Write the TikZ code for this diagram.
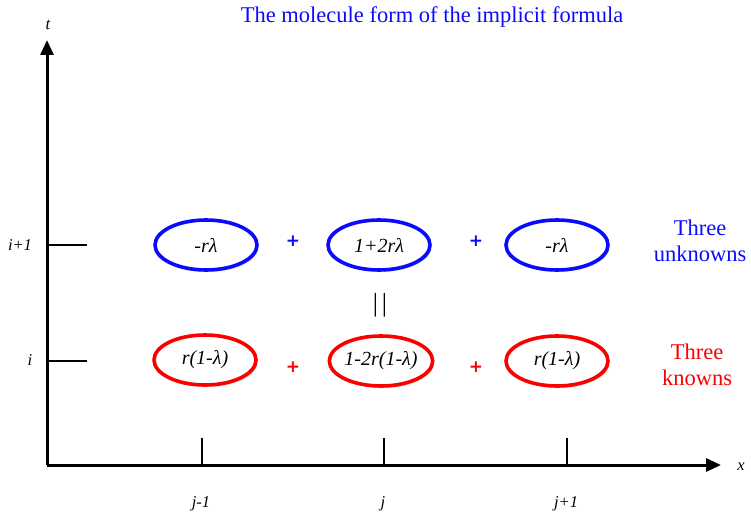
\documentclass[tikz,border=0pt]{standalone}
\usepackage{fontspec}
\setmainfont{Liberation Serif}
\newfontfamily\plusfont{DejaVu Sans}
\usetikzlibrary{shapes.geometric,arrows.meta,shadows}
\definecolor{myblue}{RGB}{10,10,255}
\definecolor{myred}{RGB}{250,0,0}
\tikzset{
  axis/.style={line width=3pt, -{Triangle[length=15pt,width=13pt]}},
  tickln/.style={line width=2.8pt},
  cell/.style={ellipse, line width=3.6pt, minimum width=102pt, minimum height=50pt, inner sep=0pt,
    font=\fontsize{20}{22}\selectfont\itshape, fill=white,
    drop shadow={opacity=0.3, shadow xshift=1.5pt, shadow yshift=-2pt, fill=black!50}},
  bcell/.style={cell, draw=myblue},
  rcell/.style={cell, draw=myred},
  lab/.style={font=\fontsize{16.5}{18}\selectfont\itshape},
  plusb/.style={font=\plusfont\bfseries\fontsize{17}{17}\selectfont, text=myblue},
  plusr/.style={font=\plusfont\bfseries\fontsize{17}{17}\selectfont, text=myred},
  side/.style={font=\fontsize{22.5}{26}\selectfont, align=center}
}
\begin{document}
\begin{tikzpicture}[x=1pt,y=-1pt]
\useasboundingbox (0,0) rectangle (751,516);
\coordinate (O) at (47,465);
\coordinate (tend) at (47,40);
\coordinate (xend) at (721,465);
\draw[axis] (O) -- (tend);
\draw[axis] (O) -- (xend);
\node[lab] (tl) at (48,25) {t};
\node[lab] (xl) at (741,467) {x};
% y ticks
\coordinate (yt1a) at (47,245); \coordinate (yt1b) at (87,245);
\coordinate (yt0a) at (47,361); \coordinate (yt0b) at (87,361);
\draw[tickln] (yt1a) -- (yt1b);
\draw[tickln] (yt0a) -- (yt0b);
\node[lab] (li1) at (20,245) {i+1};
\node[lab] (li0) at (30,360) {i};
% x ticks
\foreach \n/\xx in {a/202,b/384,c/567}{
  \coordinate (xt\n a) at (\xx,438); \coordinate (xt\n b) at (\xx,465);
  \draw[tickln] (xt\n a) -- (xt\n b);
}
\node[lab] (lj0) at (201,504) {j-1};
\node[lab] (lj1) at (383,504) {j};
\node[lab] (lj2) at (566,504) {j+1};
% title
\node[font=\fontsize{22.5}{24}\selectfont, text=myblue] (title) at (432,17) {The molecule form of the implicit formula};
% blue row
\node[bcell] (b1) at (206,245) {-rλ};
\node[bcell] (b2) at (379,245) {1+2rλ};
\node[bcell] (b3) at (557,245) {-rλ};
\node[plusb] (pb1) at (293,241) {+};
\node[plusb] (pb2) at (476,241) {+};
% red row
\node[rcell] (r1) at (205,360) {r(1-λ)};
\node[rcell] (r2) at (381,361) {1-2r(1-λ)};
\node[rcell] (r3) at (557,361) {r(1-λ)};
\node[plusr] (pr1) at (293,367) {+};
\node[plusr] (pr2) at (476,367) {+};
% equals
\node[font=\fontsize{26}{26}\selectfont] (eq) at (380,305) {|\hspace{4pt}|};
% side labels
\node[side, text=myblue] (unk) at (700,241) {Three\\unknowns};
\node[side, text=myred] (kn) at (697,365) {Three\\knowns};
\end{tikzpicture}
\end{document}
